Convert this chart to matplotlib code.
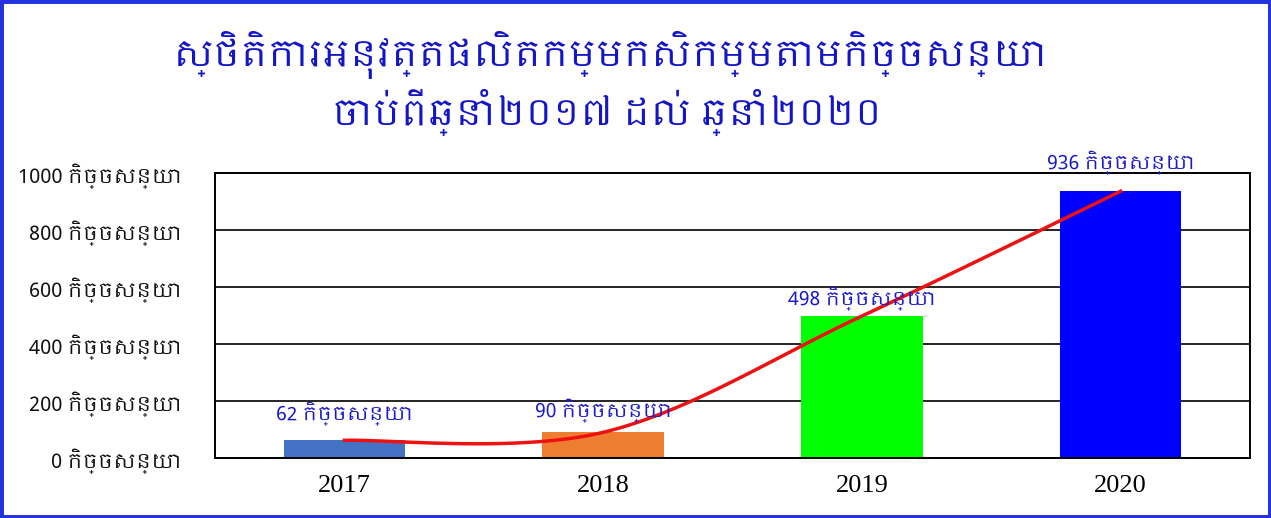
import matplotlib
matplotlib.use("Agg")
import matplotlib.pyplot as plt
from matplotlib import font_manager
from matplotlib.patches import Rectangle
import numpy as np

years = ["2017", "2018", "2019", "2020"]
contracts = [62, 90, 498, 936]
bar_colors = ["#4472C4", "#ED7D31", "#00FF00", "#0000FF"]
unit = "កិច្ចសន្យា"
title = "ស្ថិតិការអនុវត្តផលិតកម្មកសិកម្មតាមកិច្ចសន្យា"
subtitle = "ចាប់ពីឆ្នាំ២០១៧ ដល់ ឆ្នាំ២០២០"
yticks = [0, 200, 400, 600, 800, 1000]

# use a Khmer font if one happens to be there
names = sorted({f.name for f in font_manager.fontManager.ttflist})
khmer = [n for n in names if "Khmer" in n]
fams = khmer + ["DejaVu Sans"]
plt.rcParams['font.family'] = fams


def smooth(xs, ys, n=40):
    # catmull-rom style curve like a spreadsheet "smoothed line"
    xs = np.asarray(xs, float)
    ys = np.asarray(ys, float)
    px = np.concatenate([[xs[0]], xs, [xs[-1]]])
    py = np.concatenate([[ys[0]], ys, [ys[-1]]])
    outx, outy = [], []
    t = np.linspace(0, 1, n)
    for i in range(1, len(px) - 2):
        p0, p1, p2, p3 = [np.array([px[j], py[j]]) for j in range(i - 1, i + 3)]
        c1 = p1 + (p2 - p0) / 6
        c2 = p2 - (p3 - p1) / 6
        b = ((1 - t) ** 3)[:, None] * p1 + (3 * (1 - t) ** 2 * t)[:, None] * c1 \
            + (3 * (1 - t) * t ** 2)[:, None] * c2 + (t ** 3)[:, None] * p2
        outx.extend(b[:, 0])
        outy.extend(b[:, 1])
    return outx, outy


fig = plt.figure(figsize=(12.71, 5.18), dpi=100)
ax = fig.add_axes([215 / 1271, 1 - 458 / 518, 1035 / 1271, 285 / 518])

x = np.arange(len(years))
ax.bar(x, contracts, width=0.47, color=bar_colors, zorder=2)
sx, sy = smooth(x, contracts)
ax.plot(sx, sy, color="#EE1111", lw=2.5, zorder=3)

# label gaps above bars (points), as placed in the original
lab_gap = [10, 7, 4, 12]
for xi, v, g in zip(x, contracts, lab_gap):
    ax.annotate(f"{v} {unit}", (xi, v), xytext=(0, g), textcoords="offset points",
                ha="center", va="bottom", color="#1A1ACC", fontsize=14, zorder=4)

ax.set_xlim(-0.5, len(years) - 0.5)
ax.set_ylim(0, 1000)
ax.set_yticks(yticks)
ax.set_yticklabels([f"{t} {unit}" for t in yticks], fontsize=14.5, color="#111111")
ax.set_xticks(x)
ax.set_xticklabels(years, fontsize=19, family="Liberation Serif")
ax.tick_params(length=0, axis="y", pad=24)
ax.tick_params(length=0, axis="x", pad=12)
ax.yaxis.grid(True, color="black", lw=1.2, zorder=0)
ax.set_axisbelow(True)
for s in ax.spines.values():
    s.set_color("black")
    s.set_linewidth(1.4)

fig.text(610 / 1271, 1 - 55 / 518, title, ha="center", va="center",
         fontsize=26, fontweight="bold", color="#1515C8")
fig.text(607 / 1271, 1 - 112 / 518, subtitle, ha="center", va="center",
         fontsize=26, color="#1515C8")

fig.patches.append(Rectangle((0, 0), 1, 1, transform=fig.transFigure,
                             fill=False, edgecolor="#2233DD", lw=5))

fig.savefig("out.png", dpi=100)
